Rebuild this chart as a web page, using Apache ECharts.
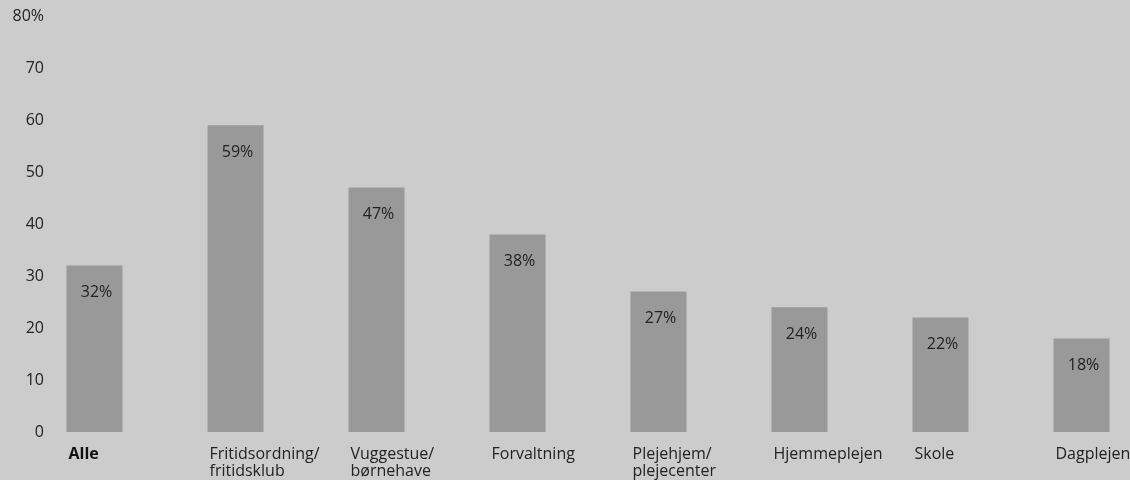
<!DOCTYPE html>
<html>
<head>
<meta charset="utf-8">
<script src="https://cdn.jsdelivr.net/npm/echarts@6/dist/echarts.min.js"></script>
<style>
  html, body { margin: 0; padding: 0; background: #cccccc; }
  #chart { width: 1130px; height: 480px; }
</style>
</head>
<body>
<div id="chart"></div>
<script>
var categories = ['Alle', 'Fritidsordning/\nfritidsklub', 'Vuggestue/\nbørnehave', 'Forvaltning',
    'Plejehjem/\nplejecenter', 'Hjemmeplejen', 'Skole', 'Dagplejen'];
var values = [32, 59, 47, 38, 27, 24, 22, 18];
var yTicks = [0, 10, 20, 30, 40, 50, 60, 70, 80];

var font = 'Open Sans';

function initChart() {
    var chart = echarts.init(document.getElementById('chart'));
    var options = {
        backgroundColor: '#cccccc',
        animation: false,
        textStyle: {fontFamily: font},
        grid: [
            // bars
            {left: 24, top: 16, bottom: 48, width: 1128, outerBoundsMode: 'none', containLabel: false},
            // labels shifted so they start at the bar's left edge
            {left: -2, top: 16, bottom: 48, width: 1128, outerBoundsMode: 'none', containLabel: false}
        ],
        xAxis: [
            {
                type: 'category',
                gridIndex: 0,
                data: categories,
                axisLine: {show: false},
                axisTick: {show: false},
                axisLabel: {show: false}
            },
            {
                type: 'category',
                gridIndex: 1,
                data: categories,
                axisLine: {show: false},
                axisTick: {show: false},
                axisLabel: {
                    align: 'left',
                    margin: 14,
                    fontSize: 16,
                    lineHeight: 17,
                    color: '#222',
                    fontFamily: font,
                    interval: 0,
                    formatter: function (v, i) {
                        return i === 0 ? '{b|' + v + '}' : v;
                    },
                    rich: {
                        b: {fontWeight: 'bold', fontSize: 16, color: '#111', fontFamily: font}
                    }
                }
            }
        ],
        yAxis: [
            {
                type: 'value',
                gridIndex: 0,
                min: yTicks[0],
                max: yTicks[yTicks.length - 1],
                interval: 10,
                offset: -20,
                splitLine: {show: false},
                axisLine: {show: false},
                axisTick: {show: false},
                axisLabel: {
                    margin: 0,
                    fontSize: 16,
                    color: '#222',
                    fontFamily: font,
                    formatter: function (v) {
                        return v === 80 ? v + '%' : '' + v;
                    }
                }
            },
            {
                type: 'value',
                gridIndex: 1,
                min: 0,
                max: 80,
                show: false
            }
        ],
        series: [
            {
                type: 'bar',
                xAxisIndex: 0,
                yAxisIndex: 0,
                data: values,
                barWidth: 56,
                itemStyle: {color: '#999999'},
                label: {
                    show: true,
                    position: 'insideTop',
                    distance: 19,
                    offset: [2, 0],
                    fontSize: 16,
                    color: '#222',
                    fontFamily: font,
                    formatter: '{c}%'
                }
            }
        ]
    };
    chart.setOption(options);
}

initChart();
</script>
</body>
</html>
